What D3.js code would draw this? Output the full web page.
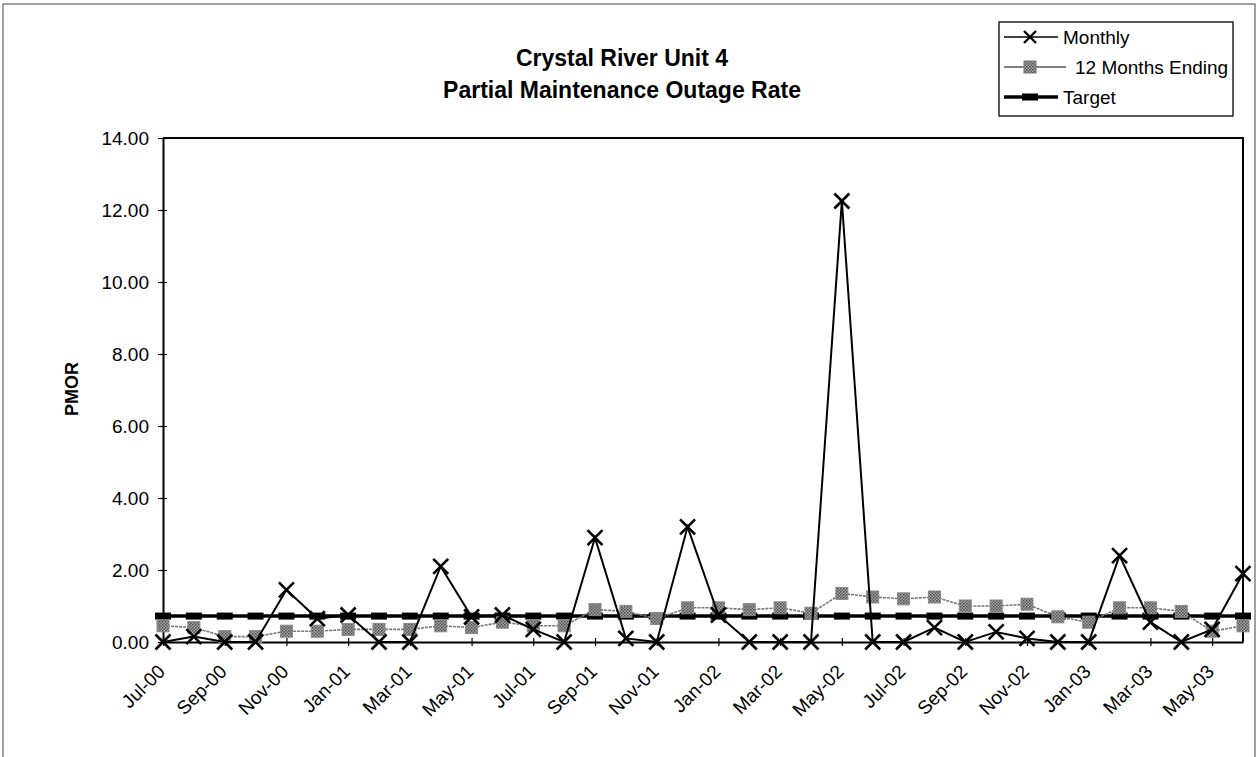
<!DOCTYPE html>
<html>
<head>
<meta charset="utf-8">
<script src="https://cdn.jsdelivr.net/npm/d3@7/dist/d3.min.js"></script>
<style>
  html, body { margin: 0; padding: 0; background: #fff; }
  svg { display: block; font-family: "Liberation Sans", Arial, sans-serif; }
</style>
</head>
<body>
<svg id="chart" width="1259" height="757"></svg>
<script>
const months = ["Jul-00","Aug-00","Sep-00","Oct-00","Nov-00","Dec-00",
  "Jan-01","Feb-01","Mar-01","Apr-01","May-01","Jun-01","Jul-01","Aug-01","Sep-01","Oct-01","Nov-01","Dec-01",
  "Jan-02","Feb-02","Mar-02","Apr-02","May-02","Jun-02","Jul-02","Aug-02","Sep-02","Oct-02","Nov-02","Dec-02",
  "Jan-03","Feb-03","Mar-03","Apr-03","May-03","Jun-03"];
const monthly = [0,0.15,0,0,1.45,0.65,0.75,0,0,2.1,0.7,0.75,0.35,0,2.9,0.1,0,3.2,
  0.75,0,0,0,12.25,0,0,0.4,0,0.28,0.1,0,0,2.4,0.55,0,0.35,1.9];
const twelveMonths = [0.45,0.4,0.15,0.15,0.3,0.3,0.35,0.35,0.35,0.45,0.4,0.55,0.45,0.45,0.9,0.85,0.65,0.95,
  0.95,0.9,0.95,0.8,1.35,1.25,1.2,1.25,1.0,1.0,1.05,0.7,0.55,0.95,0.95,0.85,0.3,0.45];
const targetValue = 0.72;
const target = months.map(() => targetValue);
const yTicks = [0,2,4,6,8,10,12,14];
const xTickLabels = months.filter((m, i) => i % 2 === 0);
const seriesNames = ["Monthly", "12 Months Ending", "Target"];
const titleLines = ["Crystal River Unit 4", "Partial Maintenance Outage Rate"];
const yAxisTitle = "PMOR";

const svg = d3.select("#chart");
const plot = {left: 163, right: 1243, top: 138, bottom: 642};

const x = d3.scalePoint().domain(months).range([plot.left, plot.right]);
const y = d3.scaleLinear().domain([0, 14]).range([plot.bottom, plot.top]);

// outer frame
svg.append("rect").attr("x", 3).attr("y", 4).attr("width", 1252).attr("height", 770)
  .attr("fill", "none").attr("stroke", "#444").attr("stroke-width", 1);

// pattern for 12-month markers
const defs = svg.append("defs");
const pat = defs.append("pattern").attr("id", "dots").attr("width", 3).attr("height", 3)
  .attr("patternUnits", "userSpaceOnUse");
pat.append("rect").attr("width", 3).attr("height", 3).attr("fill", "#a8a8a8");
pat.append("rect").attr("width", 1.5).attr("height", 1.5).attr("fill", "#4a4a4a");
pat.append("rect").attr("x", 1.5).attr("y", 1.5).attr("width", 1.5).attr("height", 1.5).attr("fill", "#5a5a5a");

// plot border (top/right)
svg.append("path")
  .attr("d", `M${plot.left},${plot.top}H${plot.right}V${plot.bottom}`)
  .attr("fill", "none").attr("stroke", "#000").attr("stroke-width", 2);

// Y axis
const yAxis = svg.append("g").attr("transform", `translate(${plot.left},0)`)
  .call(d3.axisLeft(y).tickValues(yTicks).tickFormat(d3.format(".2f")).tickSizeInner(5).tickSizeOuter(0).tickPadding(9));
yAxis.select(".domain").attr("stroke", "#000").attr("stroke-width", 2);
yAxis.selectAll(".tick line").attr("x1", 4).attr("stroke", "#000").attr("stroke-width", 1.2);
yAxis.selectAll(".tick text").attr("font-size", 19).attr("fill", "#000");

// X axis
const xAxis = svg.append("g").attr("transform", `translate(0,${plot.bottom})`)
  .call(d3.axisBottom(x).tickValues(xTickLabels).tickSizeInner(4).tickSizeOuter(0).tickPadding(6));
xAxis.select(".domain").attr("stroke", "#000").attr("stroke-width", 2);
xAxis.selectAll(".tick line").attr("y1", -4).attr("stroke", "#000").attr("stroke-width", 1.2);
xAxis.selectAll(".tick text")
  .attr("font-size", 19).attr("fill", "#000")
  .attr("text-anchor", "end")
  .attr("transform", "translate(-2,26) rotate(-45)")
  .attr("dy", "0.35em").attr("y", 0).attr("x", 0);

// Titles
svg.append("text").attr("x", 622).attr("y", 66).attr("text-anchor", "middle")
  .attr("font-size", 23).attr("font-weight", "bold").text(titleLines[0]);
svg.append("text").attr("x", 622).attr("y", 98).attr("text-anchor", "middle")
  .attr("font-size", 23).attr("font-weight", "bold").text(titleLines[1]);
svg.append("text").attr("transform", "translate(78,389) rotate(-90)").attr("text-anchor", "middle")
  .attr("font-size", 18).attr("font-weight", "bold").text(yAxisTitle);

// Target line
const line = (arr) => d3.line().x((d, i) => x(months[i])).y(d => y(d))(arr);
svg.append("path").attr("d", line(target)).attr("fill", "none")
  .attr("stroke", "#000").attr("stroke-width", 3.5);
svg.append("g").selectAll("rect").data(target).join("rect")
  .attr("x", (d, i) => x(months[i]) - 8).attr("y", d => y(d) - 3.5)
  .attr("width", 16).attr("height", 7).attr("fill", "#000");

// 12 months line
svg.append("path").attr("d", line(twelveMonths)).attr("fill", "none")
  .attr("stroke", "#777").attr("stroke-width", 1.6).attr("stroke-dasharray", "3,1");
svg.append("g").selectAll("rect").data(twelveMonths).join("rect")
  .attr("x", (d, i) => x(months[i]) - 6).attr("y", d => y(d) - 6)
  .attr("width", 12).attr("height", 12).attr("fill", "url(#dots)")
  .attr("stroke", "#888").attr("stroke-width", 1);

// Monthly line
svg.append("path").attr("d", line(monthly)).attr("fill", "none")
  .attr("stroke", "#000").attr("stroke-width", 2);
const xMark = (cx, cy, s) => `M${cx - s},${cy - s}L${cx + s},${cy + s}M${cx - s},${cy + s}L${cx + s},${cy - s}`;
svg.append("g").selectAll("path").data(monthly).join("path")
  .attr("d", (d, i) => xMark(x(months[i]), y(d), 7.5))
  .attr("stroke", "#000").attr("stroke-width", 2.6).attr("fill", "none");

// Legend
const lg = svg.append("g");
lg.append("rect").attr("x", 999).attr("y", 22).attr("width", 234).attr("height", 94)
  .attr("fill", "#fff").attr("stroke", "#000").attr("stroke-width", 1.3);
const ly = [37, 67, 97];
const lx0 = 1004, lx1 = 1058, lmid = 1030;
// Monthly
lg.append("line").attr("x1", lx0).attr("x2", lx1).attr("y1", ly[0]).attr("y2", ly[0])
  .attr("stroke", "#000").attr("stroke-width", 1.5);
lg.append("path").attr("d", xMark(lmid, ly[0], 6)).attr("stroke", "#000").attr("stroke-width", 2.4);
// 12 months
lg.append("line").attr("x1", lx0).attr("x2", lx1 + 8).attr("y1", ly[1]).attr("y2", ly[1])
  .attr("stroke", "#555").attr("stroke-width", 1.6);
lg.append("rect").attr("x", lmid - 6).attr("y", ly[1] - 6).attr("width", 12).attr("height", 12)
  .attr("fill", "url(#dots)").attr("stroke", "#777");
// Target
lg.append("line").attr("x1", lx0).attr("x2", lx1).attr("y1", ly[2]).attr("y2", ly[2])
  .attr("stroke", "#000").attr("stroke-width", 3.5);
lg.append("rect").attr("x", lmid - 8).attr("y", ly[2] - 3.5).attr("width", 16).attr("height", 7).attr("fill", "#000");
const ltx = [1063, 1075, 1063];
lg.selectAll("text.lbl").data(seriesNames).join("text").attr("class", "lbl")
  .attr("x", (d, i) => ltx[i]).attr("y", (d, i) => ly[i]).attr("dy", "0.35em")
  .attr("font-size", 19).text(d => d);
</script>
</body>
</html>
